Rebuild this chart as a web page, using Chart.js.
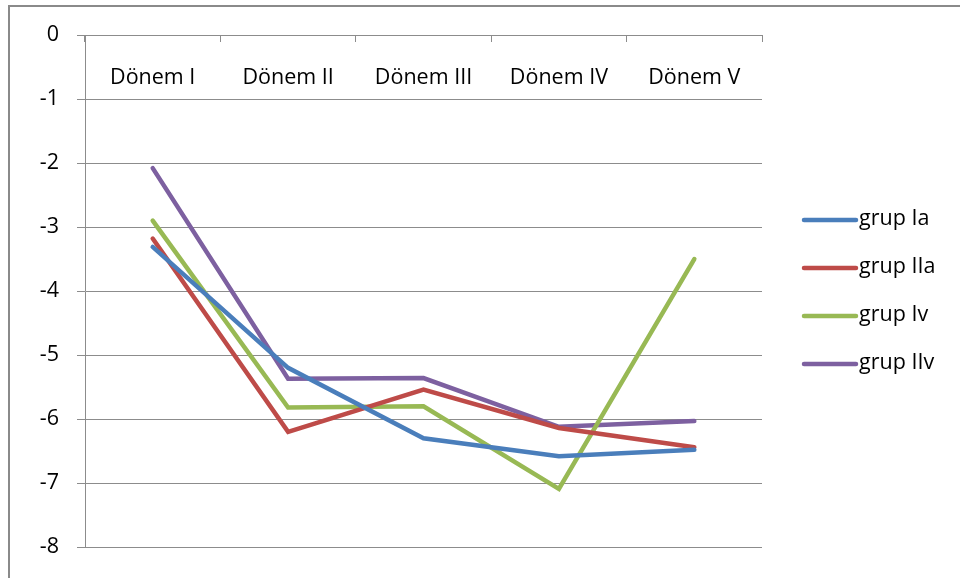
<!DOCTYPE html>
<html>
<head>
<meta charset="utf-8">
<script src="https://cdn.jsdelivr.net/npm/chart.js@4.4.1/dist/chart.umd.min.js"></script>
<style>
  html, body { margin: 0; padding: 0; background: #ffffff; }
  #wrap { width: 960px; height: 578px; position: relative; }
</style>
</head>
<body>
<div id="wrap"><canvas id="c" width="960" height="578"></canvas></div>
<script>
// Periods along the category axis
const categories = ['Dönem I', 'Dönem II', 'Dönem III', 'Dönem IV', 'Dönem V'];

// Series values per period
const grupIa  = [-3.31, -5.20, -6.30, -6.58, -6.48];
const grupIIa = [-3.18, -6.20, -5.54, -6.14, -6.44];
const grupIv  = [-2.90, -5.82, -5.80, -7.09, -3.50];
const grupIIv = [-2.08, -5.37, -5.36, -6.12, -6.03];

const seriesNames = ['grup Ia', 'grup IIa', 'grup Iv', 'grup IIv'];
const seriesColors = ['#4A7EBB', '#BE4B48', '#98B954', '#7D60A0'];

const FONT = '"Open Sans", "Liberation Sans", sans-serif';
const FONT_SIZE = 21.5;
const GRID = '#8c8c8c';

// Frame around the whole figure
const framePlugin = {
  id: 'frame',
  beforeDraw(chart) {
    const ctx = chart.ctx;
    ctx.save();
    ctx.fillStyle = '#ffffff';
    ctx.fillRect(0, 0, chart.width, chart.height);
    ctx.strokeStyle = '#8a8a8a';
    ctx.lineWidth = 2;
    ctx.beginPath();
    ctx.moveTo(9, chart.height + 2);
    ctx.lineTo(9, 6);
    ctx.lineTo(chart.width + 2, 6);
    ctx.stroke();
    ctx.restore();
  }
};

// Legend drawn at the right side, one row per dataset
const sideLegend = {
  id: 'sideLegend',
  afterDraw(chart) {
    const ctx = chart.ctx;
    ctx.save();
    ctx.font = FONT_SIZE + 'px ' + FONT;
    ctx.textBaseline = 'middle';
    ctx.textAlign = 'left';
    chart.data.datasets.forEach((ds, i) => {
      const y = 220 + i * 48;
      ctx.strokeStyle = ds.borderColor;
      ctx.lineWidth = 4.5;
      ctx.lineCap = 'round';
      ctx.beginPath();
      ctx.moveTo(804, y);
      ctx.lineTo(856, y);
      ctx.stroke();
      ctx.fillStyle = '#000000';
      ctx.fillText(ds.label, 859, y - 1);
    });
    ctx.restore();
  }
};

const series = [grupIa, grupIIa, grupIv, grupIIv];

new Chart(document.getElementById('c'), {
  type: 'line',
  data: {
    labels: categories,
    datasets: series.map((vals, i) => ({
      label: seriesNames[i],
      data: vals,
      borderColor: seriesColors[i],
      backgroundColor: seriesColors[i],
      borderWidth: 4.5,
      pointRadius: 0,
      tension: 0,
      borderCapStyle: 'round',
      borderJoinStyle: 'miter'
    }))
  },
  options: {
    responsive: false,
    animation: false,
    devicePixelRatio: 1,
    layout: { padding: { left: 5, right: 198, top: 35, bottom: 26 } },
    plugins: {
      legend: { display: false },
      tooltip: { enabled: false }
    },
    scales: {
      x: {
        position: { y: 0 },
        offset: true,
        grid: {
          offset: true,
          drawOnChartArea: false,
          drawTicks: true,
          tickLength: 6,
          color: GRID
        },
        border: { color: GRID, width: 1 },
        ticks: {
          color: '#000000',
          font: { family: FONT, size: FONT_SIZE },
          padding: 24,
          maxRotation: 0
        }
      },
      y: {
        min: -8,
        max: 0,
        afterFit(scale) { scale.width = 80; },
        grid: {
          color: GRID,
          lineWidth: 1,
          tickLength: 8
        },
        border: { color: GRID, width: 1 },
        ticks: {
          stepSize: 1,
          color: '#000000',
          font: { family: FONT, size: FONT_SIZE },
          padding: 18
        }
      }
    }
  },
  plugins: [framePlugin, sideLegend]
});
</script>
</body>
</html>
